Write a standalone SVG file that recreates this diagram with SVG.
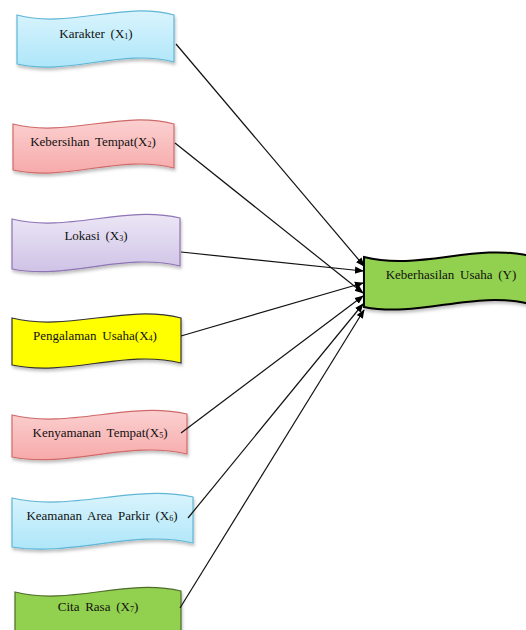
<svg xmlns="http://www.w3.org/2000/svg" width="526" height="630" viewBox="0 0 526 630">
<defs>
<linearGradient id="gBlue" x1="0" y1="0" x2="0" y2="1"><stop offset="0" stop-color="#d9f4fd"/><stop offset="1" stop-color="#aee6f9"/></linearGradient>
<linearGradient id="gPink" x1="0" y1="0" x2="0" y2="1"><stop offset="0" stop-color="#fbd0d0"/><stop offset="1" stop-color="#f7aaaa"/></linearGradient>
<linearGradient id="gPurple" x1="0" y1="0" x2="0" y2="1"><stop offset="0" stop-color="#ece6f6"/><stop offset="1" stop-color="#cfc3e6"/></linearGradient>
<filter id="sh" x="-10%" y="-10%" width="125%" height="140%"><feDropShadow dx="1" dy="2.5" stdDeviation="1.5" flood-color="#000" flood-opacity="0.25"/></filter>
<marker id="ah" viewBox="0 0 10 10" refX="9" refY="5" markerWidth="9" markerHeight="9" markerUnits="userSpaceOnUse" orient="auto"><path d="M0,1 L10,5 L0,9 z" fill="#000"/></marker>
</defs>
<style>
text{font-family:"Liberation Serif","Times New Roman",serif;font-size:13px;fill:#111;text-anchor:middle;word-spacing:2.5px}
.sub{font-size:8px}
.blue{fill:url(#gBlue);stroke:#5fb6d6;stroke-width:1.2}
.pink{fill:url(#gPink);stroke:#d06a6a;stroke-width:1.2}
.purple{fill:url(#gPurple);stroke:#8e74b4;stroke-width:1.2}
.yellow{fill:#ffff00;stroke:#333;stroke-width:1.2}
.green{fill:#92d050;stroke:#4f6d2a;stroke-width:1.2}
.target{fill:#92d050;stroke:#000;stroke-width:2}
#connectors line{stroke:#111;stroke-width:1.2;marker-end:url(#ah)}
</style>
<g id="n1"><path class="blue" filter="url(#sh)" d="M17,15 C69,29 122,1 174,15 L174,62 C122,48 69,76 17,64 Z"/><text x="96" y="38">Karakter (X<tspan class="sub" dy="1">1</tspan><tspan dy="-1">)</tspan></text></g>
<g id="n2"><path class="pink" filter="url(#sh)" d="M13,124 C67,138 120,110 174,124 L174,168 C120,154 67,182 13,170 Z"/><text x="93" y="146">Kebersihan Tempat(X<tspan class="sub" dy="1">2</tspan><tspan dy="-1">)</tspan></text></g>
<g id="n3"><path class="purple" filter="url(#sh)" d="M12,219 C68,233 124,205 180,218 L180,266 C124,252 68,280 12,269 Z"/><text x="96" y="240">Lokasi (X<tspan class="sub" dy="1">3</tspan><tspan dy="-1">)</tspan></text></g>
<g id="n4"><path class="yellow" filter="url(#sh)" d="M12,318 C68,332 125,304 181,318 L181,363 C125,349 68,377 12,365 Z"/><text x="95" y="340">Pengalaman Usaha(X<tspan class="sub" dy="1">4</tspan><tspan dy="-1">)</tspan></text></g>
<g id="n5"><path class="pink" filter="url(#sh)" d="M12,415 C70,429 129,401 187,414 L187,454 C129,440 70,468 12,457 Z"/><text x="100" y="437">Kenyamanan Tempat(X<tspan class="sub" dy="1">5</tspan><tspan dy="-1">)</tspan></text></g>
<g id="n6"><path class="blue" filter="url(#sh)" d="M12,498 C72,512 133,484 193,497 L193,543 C133,529 72,557 12,547 Z"/><text x="102" y="520">Keamanan Area Parkir (X<tspan class="sub" dy="1">6</tspan><tspan dy="-1">)</tspan></text></g>
<g id="n7"><path class="green" filter="url(#sh)" d="M15,592 C70,606 126,578 181,591 L181,638 C126,624 70,652 15,640 Z"/><text x="98" y="611">Cita Rasa (X<tspan class="sub" dy="1">7</tspan><tspan dy="-1">)</tspan></text></g>
<g id="y"><path class="target" filter="url(#sh)" d="M364,257 C419,271 475,243 530,256 L530,304 C475,290 419,318 364,307 Z"/><text x="451" y="279">Keberhasilan Usaha (Y)</text></g>
<g id="connectors">
<line x1="176" y1="44" x2="364" y2="266"/>
<line x1="175" y1="143" x2="363" y2="293"/>
<line x1="181" y1="252" x2="363" y2="271"/>
<line x1="181" y1="336" x2="363" y2="283"/>
<line x1="181" y1="433" x2="363" y2="296"/>
<line x1="188" y1="518" x2="363" y2="304"/>
<line x1="180" y1="608" x2="364" y2="310"/>
</g>
</svg>
